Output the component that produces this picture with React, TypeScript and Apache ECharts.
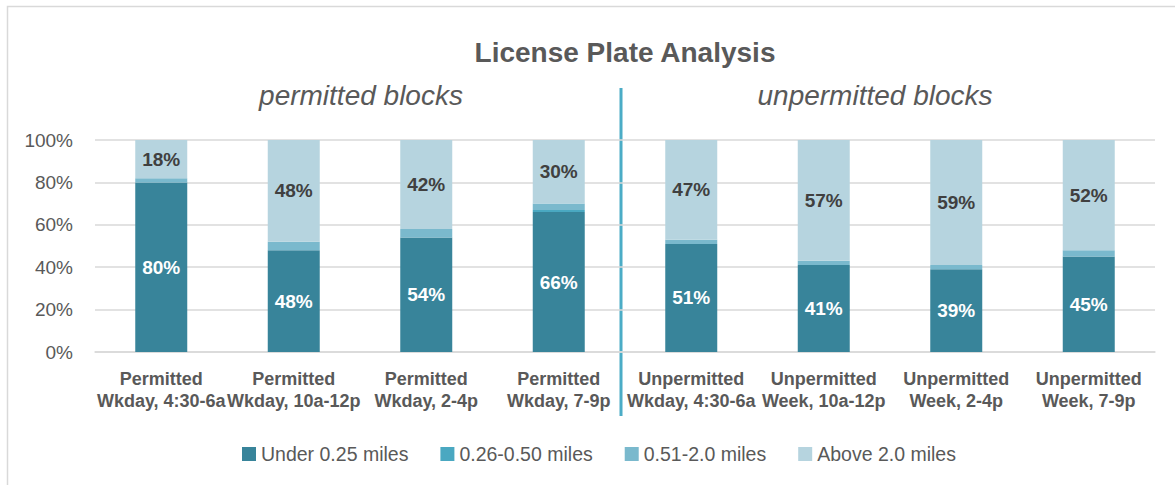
import React, { useEffect, useRef } from "react";
import * as echarts from "echarts";

const categories = [
  "Permitted\nWkday, 4:30-6a",
  "Permitted\nWkday, 10a-12p",
  "Permitted\nWkday, 2-4p",
  "Permitted\nWkday, 7-9p",
  "Unpermitted\nWkday, 4:30-6a",
  "Unpermitted\nWeek, 10a-12p",
  "Unpermitted\nWeek, 2-4p",
  "Unpermitted\nWeek, 7-9p",
];
const seriesNames = ["Under 0.25 miles", "0.26-0.50 miles", "0.51-2.0 miles", "Above 2.0 miles"];
const under025 = [80, 48, 54, 66, 51, 41, 39, 45];
const from026to050 = [0, 0, 0, 1, 0, 0, 0, 0];
const from051to20 = [2, 4, 4, 3, 2, 2, 2, 3];
const above20 = [18, 48, 42, 30, 47, 57, 59, 52];
const yTicks = [0, 20, 40, 60, 80, 100];
const colors = ["#38849a", "#4aa8c1", "#7ab9cd", "#b6d4df"];

const FONT = "'Liberation Sans', Arial, sans-serif";

export default function App() {
  const ref = useRef<HTMLDivElement>(null);
  useEffect(() => {
    document.body.style.margin = "0";
    if (!ref.current) return;
    const chart = echarts.init(ref.current, null, { renderer: "svg" });
    const values = [under025, from026to050, from051to20, above20];
    const labelColors = ["#ffffff", "", "", "#404040"];
    chart.setOption({
      animation: false,
      textStyle: { fontFamily: FONT },
      grid: { left: 95, right: 20, top: 140, bottom: 133 },
      legend: {
        left: 242,
        top: 444,
        padding: 0,
        itemWidth: 14,
        itemHeight: 14,
        itemGap: 32,
        icon: "rect",
        data: seriesNames,
        textStyle: { color: "#595959", fontSize: 19.5, fontFamily: FONT },
      },
      xAxis: {
        type: "category",
        data: categories,
        axisLine: { lineStyle: { color: "#d9d9d9", width: 1.5 } },
        axisTick: { show: false },
        axisLabel: {
          interval: 0,
          color: "#595959",
          fontSize: 18,
          fontWeight: "bold",
          lineHeight: 22,
          margin: 16,
          fontFamily: FONT,
        },
      },
      yAxis: {
        type: "value",
        min: yTicks[0],
        max: yTicks[yTicks.length - 1],
        interval: 20,
        axisLine: { show: false },
        axisTick: { show: false },
        splitLine: { lineStyle: { color: "#d9d9d9", width: 1.5 } },
        axisLabel: {
          color: "#595959",
          fontSize: 19,
          margin: 22,
          fontFamily: FONT,
          formatter: (v: number) => `${v}%`,
        },
      },
      series: seriesNames.map((name, i) => ({
        name,
        type: "bar",
        stack: "total",
        barWidth: 52,
        data: values[i],
        itemStyle: { color: colors[i] },
        label: {
          show: i === 0 || i === 3,
          position: "inside",
          color: labelColors[i] || "#404040",
          fontSize: 19,
          fontWeight: "bold",
          fontFamily: FONT,
          formatter: (p: any) => `${p.value}%`,
        },
      })),
      graphic: [
        {
          type: "rect",
          shape: { x: 7.5, y: 6.5, width: 1200, height: 500 },
          style: { fill: "none", stroke: "#d9d9d9", lineWidth: 1.5 },
          silent: true,
        },
        {
          type: "text",
          x: 625,
          y: 52,
          style: {
            text: "License Plate Analysis",
            fill: "#595959",
            font: `bold 28px ${FONT}`,
            textAlign: "center",
            textVerticalAlign: "middle",
          },
        },
        {
          type: "text",
          x: 361,
          y: 95,
          style: {
            text: "permitted blocks",
            fill: "#595959",
            font: `italic 28px ${FONT}`,
            textAlign: "center",
            textVerticalAlign: "middle",
          },
        },
        {
          type: "text",
          x: 875,
          y: 95,
          style: {
            text: "unpermitted blocks",
            fill: "#595959",
            font: `italic 28px ${FONT}`,
            textAlign: "center",
            textVerticalAlign: "middle",
          },
        },
        {
          type: "line",
          shape: { x1: 621, y1: 88, x2: 621, y2: 416 },
          style: { stroke: "#4bacc6", lineWidth: 3 },
        },
      ],
    });
    return () => chart.dispose();
  }, []);
  return <div ref={ref} style={{ width: 1175, height: 485 }} />;
}
